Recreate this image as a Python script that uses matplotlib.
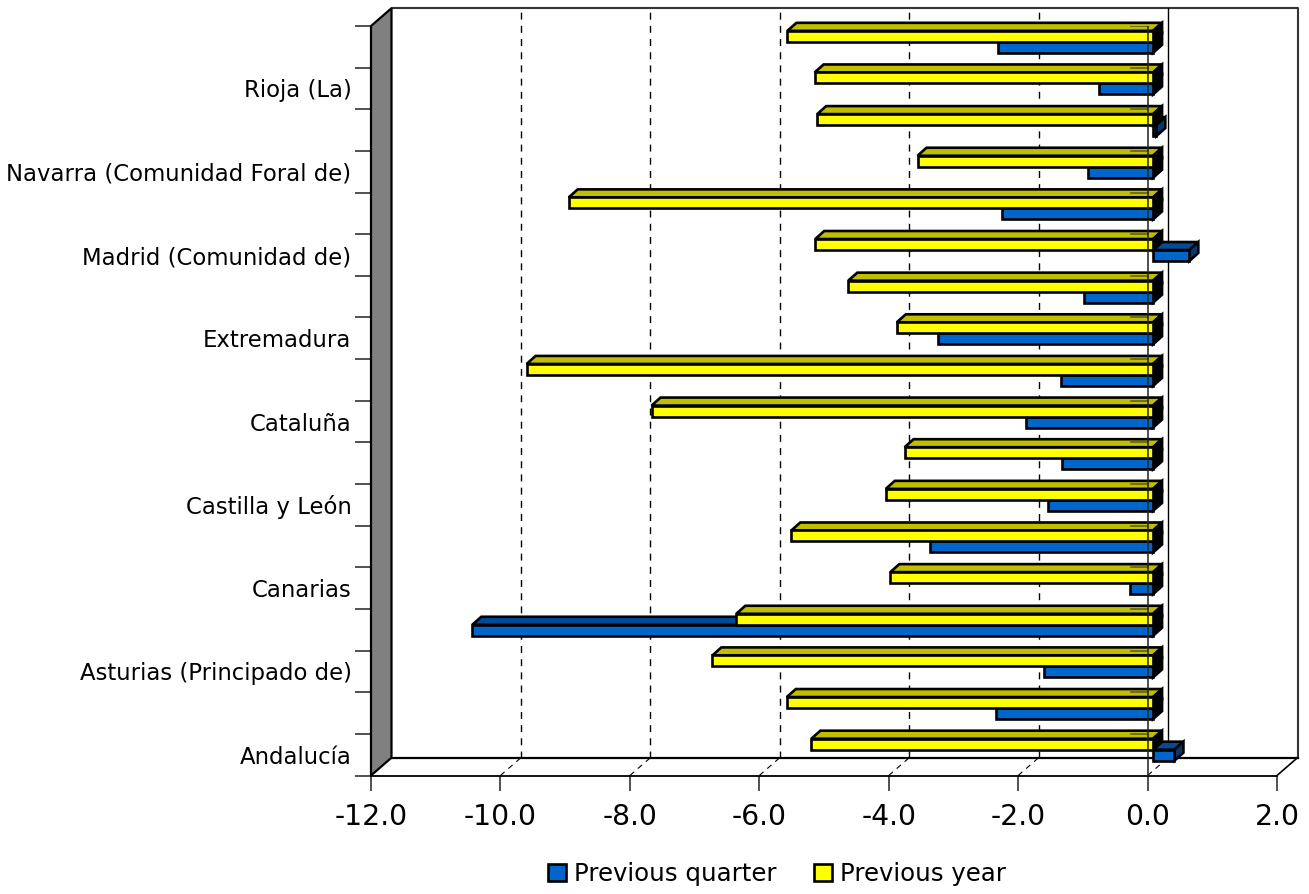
import numpy as np
import matplotlib
matplotlib.use('Agg')
import matplotlib.pyplot as plt
from matplotlib.patches import Patch, Polygon

# Rows run bottom to top, only every second row has a label
regions = ['Andalucía', '', 'Asturias (Principado de)', '', 'Canarias', '',
           'Castilla y León', '', 'Cataluña', '', 'Extremadura', '',
           'Madrid (Comunidad de)', '', 'Navarra (Comunidad Foral de)', '',
           'Rioja (La)', '']
previous_quarter = [0.33, -2.43, -1.69, -10.52, -0.36, -3.44, -1.63, -1.41, -1.97,
                    -1.43, -3.33, -1.06, 0.56, -2.34, -1.00, 0.05, -0.83, -2.39]
previous_year = [-5.28, -5.66, -6.81, -6.44, -4.06, -5.59, -4.13, -3.84, -7.75,
                 -9.68, -3.96, -4.71, -5.22, -9.03, -3.64, -5.19, -5.23, -5.65]
x_ticks = [-12, -10, -8, -6, -4, -2, 0, 2]

BLUE, BLUE_TOP, BLUE_SIDE = '#0066CC', '#004C99', '#003A75'
YELLOW, YELLOW_TOP = '#FFFF00', '#BFBF00'

W, H = 1309, 894
fig = plt.figure(figsize=(W / 100, H / 100), dpi=100)
ax = fig.add_axes([371 / W, 1 - 775.5 / H, 906 / W, 749.5 / H])
ax.set_xlim(-12, 2)
ax.set_ylim(0, 18)
ax.set_facecolor('none')

# pixel sizes of the fake 3D, turned into data units
ux = 906 / 14
uy = 749.5 / 18
depth_x = 20.5 / ux
depth_y = 17.8 / uy
bar_off_x = 5.5 / ux
bar_off_y = 5 / uy
bar_dx = 9 / ux
bar_dy = 8 / uy
bar_h = 11 / uy


def poly(pts, fc, z, lw=1.9):
    ax.add_patch(Polygon(pts, closed=True, facecolor=fc, edgecolor='black',
                         linewidth=lw, zorder=z, clip_on=False, joinstyle='miter'))


def bar3d(v, y0, front, top, side, z):
    x0, x1 = sorted([bar_off_x, bar_off_x + v])
    y1 = y0 + bar_h
    poly([(x0, y1), (x0 + bar_dx, y1 + bar_dy), (x1 + bar_dx, y1 + bar_dy), (x1, y1)], top, z)
    poly([(x1, y0), (x1 + bar_dx, y0 + bar_dy), (x1 + bar_dx, y1 + bar_dy), (x1, y1)], side, z)
    poly([(x0, y0), (x1, y0), (x1, y1), (x0, y1)], front, z)


# walls
poly([(-12, 0), (-12 + depth_x, depth_y), (-12 + depth_x, 18 + depth_y), (-12, 18)], '#808080', 2, lw=1.6)
ax.plot([-12 + depth_x, 2 + depth_x, 2 + depth_x], [18 + depth_y, 18 + depth_y, depth_y],
        color='#333333', lw=1.5, clip_on=False, zorder=1)
ax.plot([-12 + depth_x, 2 + depth_x], [depth_y, depth_y], color='black', lw=1.6,
        clip_on=False, zorder=1)
ax.plot([2, 2 + depth_x], [0, depth_y], color='black', lw=1.2, clip_on=False, zorder=1)

# gridlines on back wall and floor
for t in x_ticks[1:-1]:
    style = '-' if t == 0 else (0, (5, 4.5))
    ax.plot([t + depth_x] * 2, [depth_y, 18 + depth_y], color='black', lw=1.0, ls=style,
            clip_on=False, zorder=1)
    ax.plot([t, t + depth_x], [0, depth_y], color='black', lw=0.8, ls=(0, (5, 4.5)),
            clip_on=False, zorder=1)

# bars, back rows first, blue sits behind the yellow
for row in range(17, -1, -1):
    mid = row + 0.5 + bar_off_y
    q = previous_quarter[row]
    bar3d(q, mid - bar_h, BLUE, BLUE_TOP, 'black' if q < 0 else BLUE_SIDE, 3)
    bar3d(previous_year[row], mid, YELLOW, YELLOW_TOP, 'black', 3)

# zero axis runs over the bars, with its own little ticks
ax.plot([0, 0], [0, 18], color='#222222', lw=1.4, alpha=0.8, zorder=5)
for row in range(19):
    ax.plot([-0.25, 0], [row, row], color='#222222', lw=1.2, alpha=0.6, zorder=5)

for s in ['top', 'right', 'left']:
    ax.spines[s].set_visible(False)
ax.spines['bottom'].set_linewidth(1.3)
ax.spines['bottom'].set_zorder(4)

ax.set_xticks(x_ticks)
ax.set_xticklabels(['%.1f' % t for t in x_ticks])
ax.tick_params(axis='x', length=11, width=1.2, color='#333333', labelsize=20.3, pad=9)
ax.set_yticks(range(19))
ax.set_yticklabels([])
ax.tick_params(axis='y', length=11.5, width=1.2, color='#333333')
ax.set_yticks(np.arange(18) + 0.5, labels=regions, minor=True)
ax.tick_params(axis='y', which='minor', length=0, labelsize=16.4, pad=14)

handles = [Patch(facecolor=BLUE, edgecolor='black', linewidth=1.9),
           Patch(facecolor=YELLOW, edgecolor='black', linewidth=1.9)]
fig.legend(handles, ['Previous quarter', 'Previous year'], loc='center',
           bbox_to_anchor=(777 / W, 1 - 874 / H), ncol=2, frameon=False, fontsize=17.6,
           handlelength=0.74, handleheight=0.74, handletextpad=0.32, columnspacing=1.55)

fig.savefig('out.png', dpi=100)
